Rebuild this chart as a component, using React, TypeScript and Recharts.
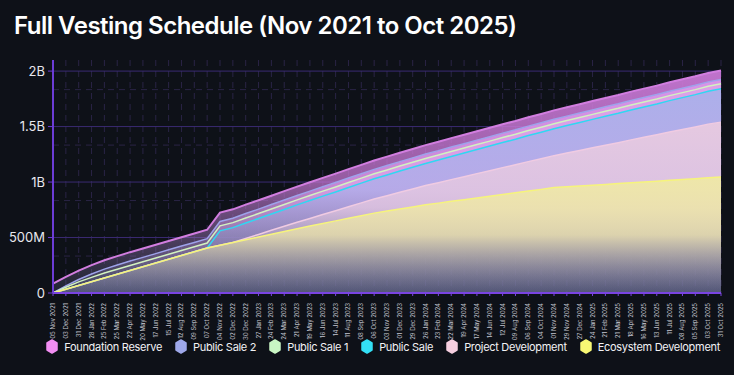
import React from 'react';
import { AreaChart, Area, XAxis, YAxis, CartesianGrid } from 'recharts';

// 4-weekly release dates
const dates = [
  '05 Nov 2021', '03 Dec 2021', '31 Dec 2021', '28 Jan 2022', '25 Feb 2022', '25 Mar 2022',
  '22 Apr 2022', '20 May 2022', '17 Jun 2022', '15 Jul 2022', '12 Aug 2022', '09 Sep 2022',
  '07 Oct 2022', '04 Nov 2022', '02 Dec 2022', '30 Dec 2022', '27 Jan 2023', '24 Feb 2023',
  '24 Mar 2023', '21 Apr 2023', '19 May 2023', '16 Jun 2023', '14 Jul 2023', '11 Aug 2023',
  '08 Sep 2023', '06 Oct 2023', '03 Nov 2023', '01 Dec 2023', '29 Dec 2023', '26 Jan 2024',
  '23 Feb 2024', '22 Mar 2024', '19 Apr 2024', '17 May 2024', '14 Jun 2024', '12 Jul 2024',
  '09 Aug 2024', '06 Sep 2024', '04 Oct 2024', '01 Nov 2024', '29 Nov 2024', '27 Dec 2024',
  '24 Jan 2025', '21 Feb 2025', '21 Mar 2025', '18 Apr 2025', '16 May 2025', '13 Jun 2025',
  '11 Jul 2025', '08 Aug 2025', '05 Sep 2025', '03 Oct 2025', '31 Oct 2025',
];

// unlocked tokens per allocation, in millions
const ecosystemDevelopment = [
  0, 34, 68, 101, 135, 169, 203, 236, 270, 304, 338, 371,
  405, 430, 455, 480, 505, 530, 555, 580, 603, 627, 650, 673,
  697, 720, 739, 758, 776, 795, 810, 826, 841, 857, 872, 888,
  903, 919, 934, 950, 957, 965, 972, 979, 986, 994, 1001, 1008,
  1016, 1023, 1030, 1038, 1045,
];
const projectDevelopment = [
  0, 0, 0, 0, 0, 0, 0, 0, 0, 0, 0, 0,
  0, 0, 0, 12, 23, 35, 46, 58, 69, 81, 92, 104,
  115, 127, 138, 150, 161, 173, 184, 196, 207, 219, 230, 242,
  253, 265, 276, 288, 304, 320, 337, 353, 369, 386, 402, 418,
  435, 451, 467, 484, 495,
];
const publicSale = [
  0, 0, 0, 0, 0, 0, 0, 0, 0, 0, 0, 0,
  0, 130, 134, 139, 143, 147, 152, 156, 161, 165, 169, 174,
  178, 182, 187, 191, 196, 200, 204, 209, 213, 217, 222, 226,
  230, 235, 239, 243, 248, 252, 256, 261, 265, 270, 274, 278,
  283, 287, 291, 296, 300,
];
const publicSale1 = [
  0, 18, 32, 40, 45, 45, 45, 45, 45, 45, 45, 45,
  45, 45, 45, 45, 45, 45, 45, 45, 45, 45, 45, 45,
  45, 45, 45, 45, 45, 45, 45, 45, 45, 45, 45, 45,
  45, 45, 45, 45, 45, 45, 45, 45, 45, 45, 45, 45,
  45, 45, 45, 45, 45,
];
const publicSale2 = [
  0, 12, 22, 30, 35, 38, 40, 40, 40, 40, 40, 40,
  40, 40, 40, 40, 40, 40, 40, 40, 40, 40, 40, 40,
  40, 40, 40, 40, 40, 40, 40, 40, 40, 40, 40, 40,
  40, 40, 40, 40, 40, 40, 40, 40, 40, 40, 40, 40,
  40, 40, 40, 40, 40,
];
const foundationReserve = [
  85, 82, 80, 80, 80, 80, 80, 80, 80, 80, 80, 80,
  80, 80, 80, 80, 80, 80, 80, 80, 80, 80, 80, 80,
  80, 80, 80, 80, 80, 80, 80, 80, 80, 80, 80, 80,
  80, 80, 80, 80, 80, 80, 80, 80, 80, 80, 80, 80,
  80, 80, 80, 80, 80,
];

const yTicks = [0, 500, 1000, 1500, 2000];

// cumulative totals, so each area is drawn from zero and overlaps the next
const data = dates.map((date, i) => {
  const eco = ecosystemDevelopment[i];
  const pd = eco + projectDevelopment[i];
  const ps = pd + publicSale[i];
  const ps1 = ps + publicSale1[i];
  const ps2 = ps1 + publicSale2[i];
  const fr = ps2 + foundationReserve[i];
  return { date, eco, pd, ps, ps1, ps2, fr };
});

// drawn back to front
const series = [
  { key: 'fr', name: 'Foundation Reserve', stroke: '#d27ee0', fill: '#c978d6', icon: '#f28ef2' },
  { key: 'ps2', name: 'Public Sale 2', stroke: '#9ea3ea', fill: '#d996ea', icon: '#9ea8ea' },
  { key: 'ps1', name: 'Public Sale 1', stroke: '#d2f2c0', fill: '#dca2e8', icon: '#c9f6c4' },
  { key: 'ps', name: 'Public Sale', stroke: '#2fd8f2', fill: '#aab0ea', icon: '#33e0f6' },
  { key: 'pd', name: 'Project Development', stroke: '#f0cbe2', fill: '#e8cae0', icon: '#f6cfe0' },
  { key: 'eco', name: 'Ecosystem Development', stroke: '#f6f47c', fill: '#efe8a6', icon: '#f8f874' },
];

// minor grid every third of 500M, major grid on the labelled ticks
const minorGrid = [167, 333, 667, 833, 1167, 1333, 1667, 1833];
const majorGrid = [500, 1000, 1500, 2000];

const fmtY = (v: number) => (v === 0 ? '0' : v < 1000 ? `${v}M` : `${v / 1000}B`);

const DateTick = (props: any) => {
  const { x, y, payload } = props;
  return (
    <g transform={`translate(${x},${y})`}>
      <text transform="rotate(-90)" x={-5} dy={2} textAnchor="end" fontSize={6} fill="#c4c5cf" fontFamily="Inter">
        {payload.value}
      </text>
    </g>
  );
};

const Hexagon = ({ color }: { color: string }) => (
  <svg width="12" height="15" viewBox="0 0 12 15">
    <polygon points="6,1 11,4 11,11 6,14 1,11 1,4" fill={color} stroke={color} strokeWidth={1.5} strokeLinejoin="round" />
  </svg>
);

export default function App() {
  return (
    <div style={{ position: 'absolute', left: 0, top: 0, width: 734, height: 375, background: '#0e1118', overflow: 'hidden' }}>
      <div style={{ position: 'absolute', left: 14, top: 11, color: '#ffffff', fontFamily: 'Inter', fontWeight: 600, fontSize: 24, letterSpacing: -0.5 }}>
        Full Vesting Schedule (Nov 2021 to Oct 2025)
      </div>
      <div style={{ position: 'absolute', left: 0, top: 0 }}>
        <AreaChart width={734} height={345} data={data} margin={{ top: 60, right: 13, bottom: 0, left: 0 }}>
          <defs>
            {series.map((s) => (
              <linearGradient key={s.key} id={`grad-${s.key}`} x1="0" y1="0" x2="0" y2="1">
                <stop offset="0%" stopColor={s.fill} stopOpacity={0.95} />
                <stop offset="50%" stopColor={s.fill} stopOpacity={0.72} />
                <stop offset="100%" stopColor="#6a6e96" stopOpacity={0.2} />
              </linearGradient>
            ))}
          </defs>
          <CartesianGrid horizontalValues={minorGrid} stroke="#2a2446" strokeDasharray="6 5" />
          <CartesianGrid vertical={false} horizontalValues={majorGrid} stroke="#3a2a72" />
          <XAxis
            dataKey="date"
            interval={0}
            height={52}
            tick={<DateTick />}
            axisLine={{ stroke: '#7a44e2', strokeWidth: 2 }}
            tickLine={{ stroke: '#7a44e2' }}
            tickSize={3}
          />
          <YAxis
            width={53}
            type="number"
            domain={[0, 2100]}
            ticks={yTicks}
            tickFormatter={fmtY}
            tick={{ fontSize: 13, fill: '#e8e8ee', fontFamily: 'Inter' }}
            axisLine={{ stroke: '#6c3cd6', strokeWidth: 2 }}
            tickLine={{ stroke: '#6c3cd6' }}
            tickSize={5}
            tickMargin={3}
          />
          {series.map((s) => (
            <Area
              key={s.key}
              type="linear"
              dataKey={s.key}
              name={s.name}
              stroke={s.stroke}
              strokeWidth={s.key === 'fr' ? 2 : 1.5}
              fill={`url(#grad-${s.key})`}
              fillOpacity={1}
              isAnimationActive={false}
            />
          ))}
        </AreaChart>
      </div>
      <div
        style={{
          position: 'absolute',
          top: 339,
          right: 14,
          display: 'flex',
          alignItems: 'center',
          fontFamily: 'Inter',
          fontSize: 11,
          color: '#f2f2f5',
          letterSpacing: -0.3,
        }}
      >
        {series.map((s) => (
          <div key={s.key} style={{ display: 'flex', alignItems: 'center', marginLeft: 13 }}>
            <Hexagon color={s.icon} />
            <span style={{ marginLeft: 6 }}>{s.name}</span>
          </div>
        ))}
      </div>
    </div>
  );
}
